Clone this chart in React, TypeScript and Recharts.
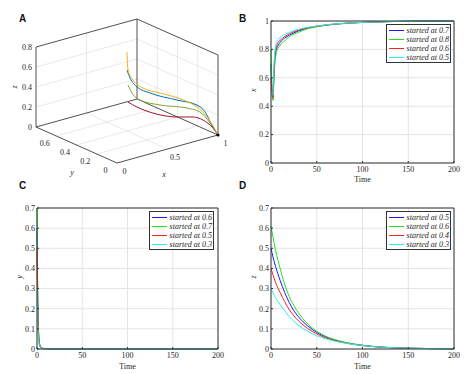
import React from "react";
import { ComposedChart, LineChart, Line, Scatter, XAxis, YAxis, CartesianGrid, Legend } from "recharts";

type P3 = [number, number, number];

// ---- panel A: 3D trajectories (x, y, z) ----
const Y_MAX = 0.8;
const Z_MAX = 0.8;
const zTicksA = [0, 0.2, 0.4, 0.6, 0.8];
const yTicksA = [0, 0.2, 0.4, 0.6];
const xTicksA = [0, 0.5, 1];

const trajYellow: P3[] = [
  [0.75, 0.65, 0.61], [0.56, 0.45, 0.571], [0.459, 0.3, 0.566], [0.438, 0.18, 0.546], [0.486, 0.06, 0.537],
  [0.673, 0.02, 0.433], [0.8, 0.008, 0.332], [0.891, 0, 0.211], [0.99, 0, 0.023], [1, 0, 0],
];
const trajBlue: P3[] = [
  [0.65, 0.55, 0.5], [0.55, 0.42, 0.507], [0.479, 0.28, 0.5], [0.487, 0.16, 0.492], [0.634, 0.04, 0.434],
  [0.807, 0.015, 0.347], [0.876, 0.005, 0.264], [0.95, 0, 0.094], [1, 0, 0],
];
const trajGreen: P3[] = [
  [0.56, 0.45, 0.42], [0.489, 0.34, 0.41], [0.468, 0.24, 0.391], [0.546, 0.12, 0.373], [0.723, 0.03, 0.334],
  [0.832, 0.01, 0.272], [0.921, 0, 0.142], [1, 0, 0],
];
const trajRed: P3[] = [
  [0.459, 0.35, 0.324], [0.458, 0.26, 0.315], [0.507, 0.15, 0.29], [0.645, 0.05, 0.257], [0.772, 0.02, 0.235],
  [0.86, 0.008, 0.185], [0.95, 0, 0.084], [1, 0, 0],
];

// ---- panel B: x over time ----
const tB = [0, 1, 2, 3, 4, 6, 8, 10, 15, 20, 30, 40, 50, 70, 100, 130, 160, 200];
const xFrom07 = [0.7, 0.52, 0.45, 0.58, 0.71, 0.8, 0.83, 0.85, 0.88, 0.9, 0.93, 0.95, 0.962, 0.978, 0.99, 0.996, 0.999, 1];
const xFrom08 = [0.8, 0.55, 0.44, 0.55, 0.68, 0.78, 0.81, 0.83, 0.86, 0.89, 0.92, 0.945, 0.96, 0.977, 0.99, 0.996, 0.999, 1];
const xFrom06 = [0.6, 0.5, 0.46, 0.61, 0.74, 0.82, 0.85, 0.865, 0.89, 0.91, 0.935, 0.952, 0.963, 0.979, 0.99, 0.996, 0.999, 1];
const xFrom05 = [0.5, 0.48, 0.48, 0.65, 0.77, 0.85, 0.87, 0.885, 0.905, 0.92, 0.942, 0.955, 0.965, 0.98, 0.99, 0.996, 0.999, 1];

// ---- panel C: y over time ----
const tC = [0, 0.5, 1, 1.5, 2, 3, 4, 6, 8, 10, 15, 200];
const yFrom06 = [0.6, 0.36, 0.2, 0.11, 0.06, 0.022, 0.009, 0.004, 0.002, 0.001, 0, 0];
const yFrom07 = [0.7, 0.42, 0.24, 0.13, 0.07, 0.025, 0.01, 0.004, 0.002, 0.001, 0, 0];
const yFrom05 = [0.5, 0.3, 0.17, 0.09, 0.05, 0.018, 0.008, 0.003, 0.0015, 0.0008, 0, 0];
const yFrom03 = [0.3, 0.18, 0.1, 0.055, 0.03, 0.011, 0.005, 0.002, 0.001, 0.0005, 0, 0];

// ---- panel D: z over time ----
const tD = [0, 2, 5, 10, 15, 20, 25, 30, 40, 50, 60, 75, 100, 125, 150, 175, 200];
const zFrom05 = [0.5, 0.46, 0.41, 0.34, 0.28, 0.23, 0.19, 0.16, 0.115, 0.082, 0.06, 0.038, 0.018, 0.008, 0.004, 0.002, 0.001];
const zFrom06 = [0.61, 0.56, 0.49, 0.4, 0.32, 0.26, 0.215, 0.18, 0.125, 0.088, 0.063, 0.04, 0.019, 0.009, 0.004, 0.002, 0.001];
const zFrom04 = [0.4, 0.37, 0.33, 0.28, 0.235, 0.195, 0.165, 0.14, 0.102, 0.075, 0.055, 0.036, 0.017, 0.008, 0.004, 0.002, 0.001];
const zFrom03 = [0.3, 0.28, 0.255, 0.22, 0.19, 0.16, 0.138, 0.118, 0.088, 0.066, 0.05, 0.034, 0.017, 0.008, 0.004, 0.002, 0.001];

const timeTicks = [0, 50, 100, 150, 200];
const ticksB = [0, 0.2, 0.4, 0.6, 0.8, 1];
const ticksCD = [0, 0.1, 0.2, 0.3, 0.4, 0.5, 0.6, 0.7];

const SERIF = "'Liberation Serif', 'Times New Roman', serif";
const INK = "#262626";
const BLUE = "#1a1aff";
const GREEN = "#22e022";
const RED = "#ff2020";
const CYAN = "#22f0f0";

// isometric-ish view used by the 3D panel, in pixels of the panel
const proj = (x: number, y: number, z: number) => ({
  px: 117 + 101 * x - (81 / Y_MAX) * y,
  py: 163 - 28 * x - (36 / Y_MAX) * y - (80 / Z_MAX) * z,
});
const toPts = (pts: P3[]) => pts.map((p) => proj(p[0], p[1], p[2]));

const boxEdges: P3[][] = [
  [[0, Y_MAX, 0], [0, Y_MAX, Z_MAX]],
  [[0, Y_MAX, Z_MAX], [1, Y_MAX, Z_MAX]],
  [[1, Y_MAX, Z_MAX], [1, 0, Z_MAX]],
  [[1, Y_MAX, 0], [1, Y_MAX, Z_MAX]],
  [[1, 0, 0], [1, 0, Z_MAX]],
  [[0, Y_MAX, 0], [0, 0, 0]],
  [[0, 0, 0], [1, 0, 0]],
  [[0, Y_MAX, 0], [1, Y_MAX, 0]],
  [[1, Y_MAX, 0], [1, 0, 0]],
];

const gridEdges: P3[][] = [
  ...zTicksA.slice(1, -1).map((z) => [[0, Y_MAX, z], [1, Y_MAX, z]] as P3[]),
  ...zTicksA.slice(1, -1).map((z) => [[1, 0, z], [1, Y_MAX, z]] as P3[]),
  ...xTicksA.slice(1, -1).map((x) => [[x, Y_MAX, 0], [x, Y_MAX, Z_MAX]] as P3[]),
  ...xTicksA.slice(1, -1).map((x) => [[x, 0, 0], [x, Y_MAX, 0]] as P3[]),
  ...yTicksA.slice(1).map((y) => [[1, y, 0], [1, y, Z_MAX]] as P3[]),
  ...yTicksA.slice(1).map((y) => [[0, y, 0], [1, y, 0]] as P3[]),
];

const labelsA = [
  ...zTicksA.map((z) => ({ ...proj(0, Y_MAX, z), text: String(z), dx: -4, dy: 3, anchor: "end" })),
  ...yTicksA.map((y) => ({ ...proj(0, y, 0), text: String(y), dx: -11.5, dy: 10, anchor: "middle" })),
  ...xTicksA.map((x) => ({ ...proj(x, 0, 0), text: String(x), dx: 7.5, dy: 11, anchor: "middle" })),
  { ...proj(0, Y_MAX, 0.4), text: "z", dx: -19, dy: 0, anchor: "middle", italic: true, rotate: true },
  { ...proj(0, 0.4, 0), text: "y", dx: -4.5, dy: 30, anchor: "middle", italic: true },
  { ...proj(0.5, 0, 0), text: "x", dx: -3.5, dy: 28, anchor: "middle", italic: true },
];

const LabelShape = (props: any) => {
  const { cx, cy, payload } = props;
  const x = cx + payload.dx;
  const y = cy + payload.dy;
  return (
    <text x={x} y={y} textAnchor={payload.anchor} fontSize={8} fontFamily={SERIF} fill={INK}
      fontStyle={payload.italic ? "italic" : "normal"} transform={payload.rotate ? `rotate(-90 ${x} ${y})` : undefined}>
      {payload.text}
    </text>
  );
};

const EndDot = (props: any) => <circle cx={props.cx} cy={props.cy} r={1.6} fill="#000" />;

function Panel3D() {
  const curves = [
    { pts: trajRed, color: "#a2142f" },
    { pts: trajGreen, color: "#77ac30" },
    { pts: trajBlue, color: "#0072bd" },
    { pts: trajYellow, color: "#edb120" },
  ];
  return (
    <ComposedChart width={237} height={187} margin={{ top: 0, right: 0, bottom: 0, left: 0 }}>
      <XAxis hide type="number" dataKey="px" domain={[0, 237]} allowDataOverflow />
      <YAxis hide type="number" domain={[0, 187]} reversed allowDataOverflow />
      {gridEdges.map((e, i) => (
        <Line key={"g" + i} data={toPts(e)} dataKey="py" stroke="#e3e3e3" strokeWidth={0.8}
          dot={false} activeDot={false} isAnimationActive={false} type="linear" />
      ))}
      {boxEdges.map((e, i) => (
        <Line key={"b" + i} data={toPts(e)} dataKey="py" stroke="#3c3c3c" strokeWidth={0.9}
          dot={false} activeDot={false} isAnimationActive={false} type="linear" />
      ))}
      {curves.map((c, i) => (
        <Line key={"c" + i} data={toPts(c.pts)} dataKey="py" stroke={c.color} strokeWidth={1}
          dot={false} activeDot={false} isAnimationActive={false} type="monotone" />
      ))}
      <Scatter data={[proj(1, 0, 0)]} dataKey="py" shape={EndDot} isAnimationActive={false} />
      <Scatter data={labelsA} dataKey="py" shape={LabelShape} isAnimationActive={false} />
    </ComposedChart>
  );
}

const LegendBox = ({ items }: any) => (
  <div style={{ border: "1px solid #333", background: "#fff", padding: "0.5px 1px 0.5px 2px", fontFamily: SERIF, fontStyle: "italic", fontSize: 8, color: INK }}>
    {items.map((p: any) => (
      <div key={p.key} style={{ display: "flex", alignItems: "center", height: 9, lineHeight: "9px", whiteSpace: "nowrap" }}>
        <span style={{ display: "inline-block", width: 16, height: 0, borderTop: `1.5px solid ${p.color}`, marginRight: 3 }} />
        <span>{p.name}</span>
      </div>
    ))}
  </div>
);

const tickStyle = { fontSize: 8, fill: INK, fontFamily: SERIF };
const axisStyle = { stroke: "#333", strokeWidth: 1 };

function TimePanel({ rows, series, yMax, yTicks, yName, left, right, xHeight }: any) {
  return (
    <LineChart width={237} height={187} data={rows} margin={{ top: 20, right: right - 1, bottom: 0, left: 0 }}>
      <CartesianGrid stroke="#e4e4e4" />
      <XAxis dataKey="t" type="number" domain={[0, 200]} ticks={timeTicks} interval={0} height={xHeight}
        tickSize={-2} tickMargin={5} tick={tickStyle} axisLine={axisStyle} tickLine={axisStyle}
        label={{ value: "Time", position: "insideBottom", offset: 5, fontSize: 8, fill: INK, fontFamily: SERIF }} />
      <XAxis xAxisId="top" orientation="top" dataKey="t" type="number" domain={[0, 200]} ticks={timeTicks} interval={0}
        height={1} tickSize={-2} tick={false} axisLine={axisStyle} tickLine={axisStyle} />
      <YAxis type="number" domain={[0, yMax]} ticks={yTicks} interval={0} width={left}
        tickSize={-2} tickMargin={4} tick={tickStyle} axisLine={axisStyle} tickLine={axisStyle}
        label={{ value: yName, angle: -90, position: "insideLeft", offset: left - 18, fontSize: 8, fill: INK, fontFamily: SERIF, fontStyle: "italic" }} />
      <YAxis yAxisId="right" orientation="right" type="number" domain={[0, yMax]} ticks={yTicks} interval={0}
        width={1} tickSize={-2} tick={false} axisLine={axisStyle} tickLine={axisStyle} />
      {series.map((s: any) => (
        <Line key={s.key} dataKey={s.key} name={s.name} stroke={s.color} strokeWidth={1}
          dot={false} activeDot={false} isAnimationActive={false} type="monotone" />
      ))}
      <Legend layout="vertical" align="center" verticalAlign="middle" content={() => <LegendBox items={series} />}
        wrapperStyle={{ left: 149, top: 24, width: 65, height: "auto" }} />
    </LineChart>
  );
}

const rowsB = tB.map((t, i) => ({ t, a: xFrom07[i], b: xFrom08[i], c: xFrom06[i], d: xFrom05[i] }));
const rowsC = tC.map((t, i) => ({ t, a: yFrom06[i], b: yFrom07[i], c: yFrom05[i], d: yFrom03[i] }));
const rowsD = tD.map((t, i) => ({ t, a: zFrom05[i], b: zFrom06[i], c: zFrom04[i], d: zFrom03[i] }));

const mkSeries = (names: string[]) => [
  { key: "a", name: names[0], color: BLUE },
  { key: "b", name: names[1], color: GREEN },
  { key: "c", name: names[2], color: RED },
  { key: "d", name: names[3], color: CYAN },
];

const letter = (ch: string, left: number, top: number) => (
  <div style={{ position: "absolute", left, top, fontFamily: "'Liberation Sans', Arial, sans-serif", fontWeight: 700, fontSize: 10, lineHeight: "10px", color: "#111" }}>
    {ch}
  </div>
);

export default function App() {
  return (
    <div style={{ position: "relative", width: 474, height: 374, background: "#fff", overflow: "hidden" }}>
      <style>{"body{margin:0}"}</style>
      <div style={{ position: "absolute", left: 0, top: 0 }}>
        <Panel3D />
      </div>
      <div style={{ position: "absolute", left: 237, top: 0 }}>
        <TimePanel rows={rowsB} series={mkSeries(["started at 0.7", "started at 0.8", "started at 0.6", "started at 0.5"])}
          yMax={1} yTicks={ticksB} yName="x" left={34} right={20} xHeight={24} />
      </div>
      <div style={{ position: "absolute", left: 0, top: 187 }}>
        <TimePanel rows={rowsC} series={mkSeries(["started at 0.6", "started at 0.7", "started at 0.5", "started at 0.3"])}
          yMax={0.7} yTicks={ticksCD} yName="y" left={37} right={19} xHeight={25} />
      </div>
      <div style={{ position: "absolute", left: 237, top: 187 }}>
        <TimePanel rows={rowsD} series={mkSeries(["started at 0.5", "started at 0.6", "started at 0.4", "started at 0.3"])}
          yMax={0.7} yTicks={ticksCD} yName="z" left={34} right={20} xHeight={25} />
      </div>
      {letter("A", 19, 14)}
      {letter("B", 239, 14)}
      {letter("C", 19, 181)}
      {letter("D", 239, 181)}
    </div>
  );
}
